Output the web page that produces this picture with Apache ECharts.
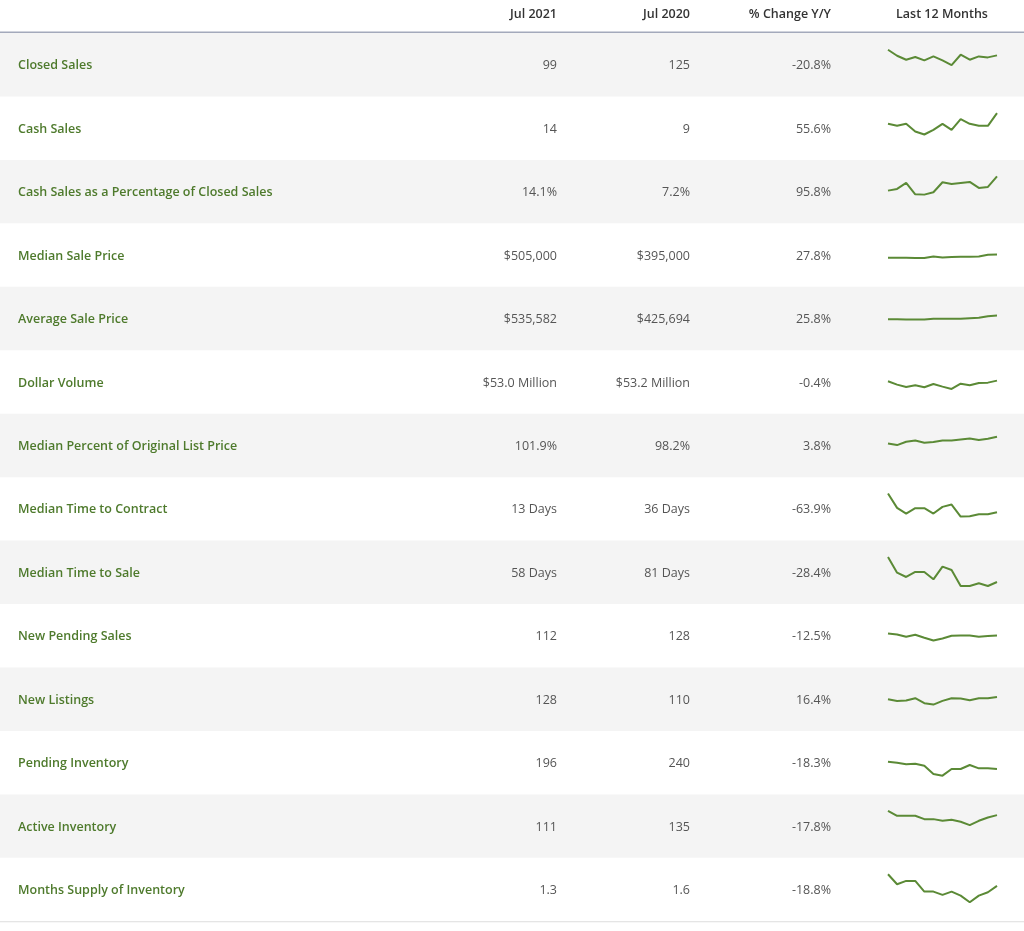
<!DOCTYPE html>
<html><head><meta charset="utf-8">
<script src="https://cdn.jsdelivr.net/npm/echarts@6/dist/echarts.min.js"></script>
<style>html,body{margin:0;padding:0;background:#fff}#c{width:1024px;height:931px}</style>
</head><body><div id="c"></div>
<script>
const headers = ["Jul 2021", "Jul 2020", "% Change Y/Y", "Last 12 Months"];
const metrics = ["Closed Sales","Cash Sales","Cash Sales as a Percentage of Closed Sales","Median Sale Price","Average Sale Price","Dollar Volume","Median Percent of Original List Price","Median Time to Contract","Median Time to Sale","New Pending Sales","New Listings","Pending Inventory","Active Inventory","Months Supply of Inventory"];
const jul2021 = ["99","14","14.1%","$505,000","$535,582","$53.0 Million","101.9%","13 Days","58 Days","112","128","196","111","1.3"];
const jul2020 = ["125","9","7.2%","$395,000","$425,694","$53.2 Million","98.2%","36 Days","81 Days","128","110","240","135","1.6"];
const pctChange = ["-20.8%","55.6%","95.8%","27.8%","25.8%","-0.4%","3.8%","-63.9%","-28.4%","-12.5%","16.4%","-18.3%","-17.8%","-18.8%"];
const spark = [
 [45,27,15,23,13,25,13,-1,30,15,25,22,28],
 [13,7,13,-10,-19,-5,13,-5,27,13,7,7,45],
 [3,8,26,-8,-9,-2,28,23,26,29,11,14,46],
 [-8,-8,-8,-9,-9,-4,-7,-6,-5,-5,-4,1,2],
 [-2,-2,-3,-3,-3,-1,-1,-1,-1,1,2,7,9],
 [2,-8,-15,-10,-16,-6,-14,-21,-5,-10,-3,-2,4],
 [6,1,11,15,8,10,15,15,18,21,16,20,26],
 [46,3,-14,2,2,-14,6,13,-23,-22,-16,-16,-10],
 [46,-1,-14,1,1,-21,17,7,-41,-41,-33,-41,-29],
 [7,4,-3,3,-6,-14,-8,0,1,1,-3,-1,1],
 [0,-5,-4,3,-12,-16,-5,3,2,-3,3,3,7],
 [3,0,-5,-3,-9,-34,-39,-19,-19,-7,-17,-17,-19],
 [46,31,31,31,21,21,16,19,13,3,16,26,33],
 [46,16,26,26,-6,-6,-16,-6,-18,-38,-18,-8,11]
];
const months = ["Jul","Aug","Sep","Oct","Nov","Dec","Jan","Feb","Mar","Apr","May","Jun","Jul"];

const top0 = 33, rowH = 63.45;
const font = '"Open Sans", "Noto Sans", sans-serif';
const graphic = [];
const grids = [], xAxes = [], yAxes = [], series = [];
const hx = [557, 690, 831, 942], ha = ['right','right','right','center'];
headers.forEach((h,i)=>graphic.push({type:'text',x:hx[i],y:14,style:{text:h,font:'600 12.5px '+font,fill:'#333',align:ha[i],verticalAlign:'middle'}}));
metrics.forEach((m,i)=>{
  const y0 = top0 + i*rowH, cy = y0 + rowH/2;
  if(i%2===0) graphic.push({type:'rect',shape:{x:0,y:y0,width:1024,height:rowH},style:{fill:'#f4f4f4'},z:-1});
  graphic.push({type:'text',x:18,y:cy+1,style:{text:m,font:'600 12.5px '+font,fill:'#4e7a2c',verticalAlign:'middle'}});
  [[jul2021,557],[jul2020,690],[pctChange,831]].forEach(([arr,x])=>graphic.push({type:'text',x:x,y:cy+1,style:{text:arr[i],font:'12.5px '+font,fill:'#555',align:'right',verticalAlign:'middle'}}));
  grids.push({left:888,width:109,top:cy-30,height:60});
  xAxes.push({type:'category',gridIndex:i,data:months,show:false,boundaryGap:false});
  yAxes.push({type:'value',gridIndex:i,min:-30,max:30,show:false});
  series.push({type:'line',xAxisIndex:i,yAxisIndex:i,data:spark[i].map(v=>v/3),symbol:'none',lineStyle:{color:'#5b8a36',width:2},silent:true,z:5});
});
graphic.push({type:'rect',shape:{x:0,y:31.5,width:1024,height:1.5},style:{fill:'#a3a9bb'}});
graphic.push({type:'rect',shape:{x:0,y:top0+14*rowH,width:1024,height:1},style:{fill:'#ddd'}});
const chart = echarts.init(document.getElementById('c'));
chart.setOption({animation:false,graphic:graphic,grid:grids,xAxis:xAxes,yAxis:yAxes,series:series});
</script></body></html>
